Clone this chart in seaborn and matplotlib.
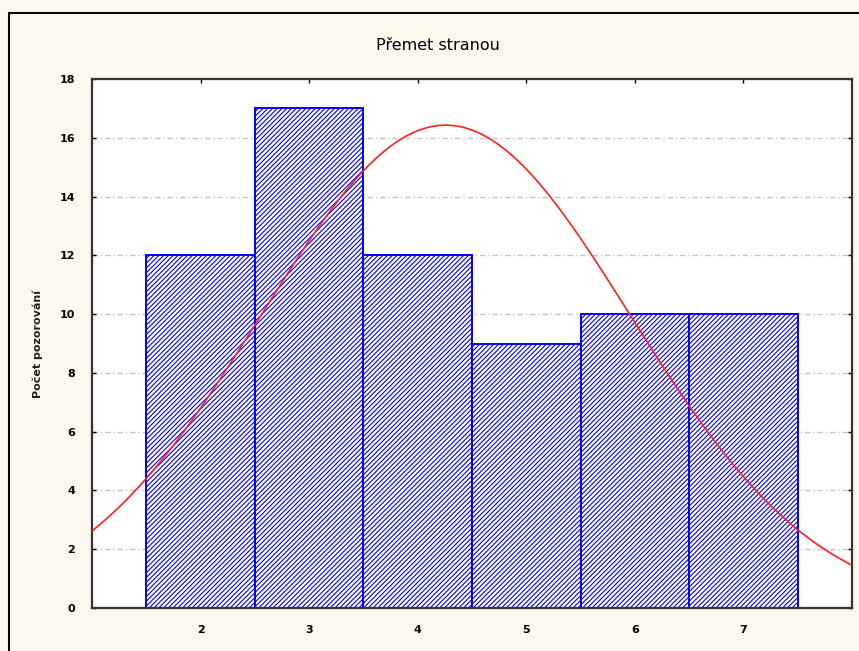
import numpy as np
import pandas as pd
import seaborn as sns
import matplotlib
matplotlib.use("Agg")
import matplotlib.pyplot as plt
from matplotlib.lines import Line2D

# Observed frequencies per category
categories = [2, 3, 4, 5, 6, 7]
counts = [12, 17, 12, 9, 10, 10]
y_ticks = [0, 2, 4, 6, 8, 10, 12, 14, 16, 18]

sns.set_theme(style="white")
plt.rcParams["font.family"] = ["DejaVu Sans"]
plt.rcParams["hatch.linewidth"] = 0.8

df = pd.DataFrame({"value": categories, "count": counts})

fig = plt.figure(figsize=(8.59, 6.51), dpi=100, facecolor="#fdf8ee")
ax = fig.add_axes([92 / 859, 1 - 608 / 651, (852 - 92) / 859, (608 - 79) / 651])
ax.set_facecolor("white")

# Dash-dot grid lines behind the bars
for t in y_ticks[1:-1]:
    ax.axhline(t, color="#c4c4c4", lw=1.0, ls=(0, (4, 2, 1, 2)), zorder=0)

# Histogram bars (one bar per category value, width 1)
sns.histplot(data=df, x="value", weights="count", discrete=True, ax=ax,
             element="bars", fill=True, facecolor="white", edgecolor="#0000ff",
             hatch="///////", linewidth=1.4, alpha=1.0, zorder=2)

# Fitted normal curve scaled to the number of observations
vals = np.repeat(categories, counts)
n = vals.size
mu = vals.mean()
sd = vals.std(ddof=1)
xs = np.linspace(1, 8, 400)
ys = n * 1.0 / (sd * np.sqrt(2 * np.pi)) * np.exp(-0.5 * ((xs - mu) / sd) ** 2)
sns.lineplot(x=xs, y=ys, ax=ax, color="#ff2020", lw=1.2, zorder=3)

ax.set_xlim(1, 8)
ax.set_ylim(0, 18)
ax.set_xticks(categories)
ax.set_yticks(y_ticks)
ax.set_xlabel("")
ax.set_ylabel("Počet pozorování", fontsize=8, fontweight="bold", labelpad=12,
              color="#222222")
ax.tick_params(axis="both", which="both", direction="in", length=3, width=1,
               labelsize=8, top=True, right=True, bottom=True, left=True,
               colors="black")
for lab in ax.get_xticklabels() + ax.get_yticklabels():
    lab.set_fontweight("bold")
ax.tick_params(axis="x", pad=12)
ax.tick_params(axis="y", pad=12)
for s in ax.spines.values():
    s.set_visible(True)
    s.set_color("#333333")
    s.set_linewidth(1.6)

fig.text(438 / 859, 1 - 45 / 651, "Přemet stranou", ha="center", va="center",
         fontsize=11.5, color="black")

# Outer frame: top and left edges
fig.add_artist(Line2D([9 / 859, 9 / 859], [0, 1 - 13 / 651], transform=fig.transFigure,
                      color="black", lw=1.5))
fig.add_artist(Line2D([9 / 859, 1], [1 - 13 / 651, 1 - 13 / 651], transform=fig.transFigure,
                      color="black", lw=1.5))

fig.savefig("out.png", dpi=100, facecolor=fig.get_facecolor())
